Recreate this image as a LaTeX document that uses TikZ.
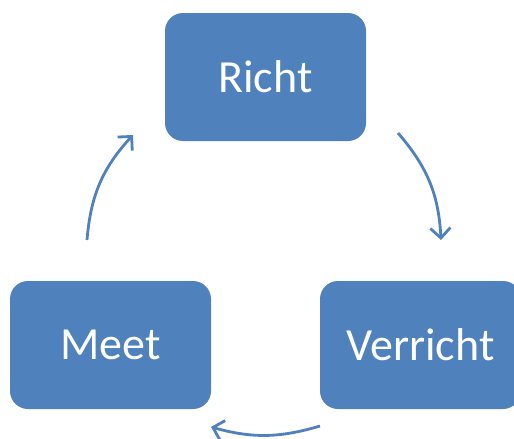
\documentclass[tikz,border=0pt]{standalone}
\usepackage{fontspec}
\setmainfont{Carlito}
\usetikzlibrary{arrows.meta}
\usetikzlibrary{positioning}
\definecolor{boxblue}{HTML}{4F81BD}

\begin{document}
\begin{tikzpicture}[
x=1pt, y=-1pt,
stepnode/.style={rectangle, rounded corners=18pt, fill=boxblue, text=white, minimum width=201pt, minimum height=128pt, font=\fontsize{46}{50}\selectfont},
cyclearrow/.style={draw=boxblue, line width=2.8pt, -{Straight Barb[length=10pt,width=20pt]}, bend left=19},
]
\useasboundingbox (0,0) rectangle (514,439);
%Nodes
\node[stepnode]  at (265.5,77)    (richt)      [] {Richt};
\node[stepnode]  at (110.5,345)   (meet)       [] {Meet};
\node[stepnode]  at (420.5,345)   (verricht)   [] {Verricht};

\coordinate (start_richt)    at (398,133);
\coordinate (end_richt)      at (441,240);
\coordinate (start_verricht) at (320,426);
\coordinate (end_verricht)   at (211,427);
\coordinate (start_meet)     at (87,240);
\coordinate (end_meet)       at (133,135);

%Lines
\draw[cyclearrow] (start_richt) to (end_richt);
\draw[cyclearrow, bend left=16] (start_verricht) to (end_verricht);
\draw[cyclearrow] (start_meet) to (end_meet);

\end{tikzpicture}
\end{document}
